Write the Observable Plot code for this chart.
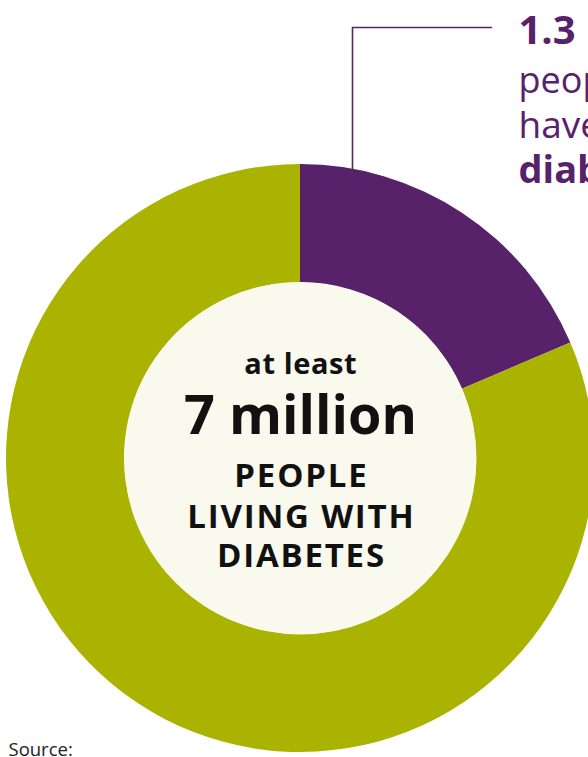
<!DOCTYPE html>
<html><head><meta charset="utf-8">
<script src="https://cdn.jsdelivr.net/npm/d3@7"></script>
<script src="https://cdn.jsdelivr.net/npm/@observablehq/plot@0.6"></script>
<style>
html,body{margin:0;padding:0;background:#fff;overflow:hidden}
svg{overflow:hidden;display:block}
</style>
</head><body><div id="chart"></div>
<script>
// ---- data ----
const categories = ["Undiagnosed", "Diagnosed"];
const values = [1.3, 5.7]; // million people
const colors = ["#58226b", "#aab400"];
const centerLines = ["at least", "7 million", "PEOPLE", "LIVING WITH", "DIABETES"];
const calloutLines = ["1.3 million", "people", "have", "diabetes"];
const sourceLabel = "Source:";

// ---- layout ----
const W = 588, H = 757;
const cx = 300, cy = 458, rOuter = 294, rInner = 176;
const purple = colors[0];
const font = "'Open Sans', 'Noto Sans', sans-serif";

const data = categories.map((c, i) => ({category: c, value: values[i]}));
const arcs = d3.pie().sort(null).value(d => d.value)(data);
const arcGen = d3.arc().innerRadius(rInner).outerRadius(rOuter);

const center = [
  {text: centerLines[0], y: 373, size: 29, ls: 0.6},
  {text: centerLines[1], y: 433, size: 54, ls: 0},
  {text: centerLines[2], y: 486, size: 33, ls: 1.8},
  {text: centerLines[3], y: 527, size: 33, ls: 1.8},
  {text: centerLines[4], y: 566, size: 33, ls: 1.8}
];
const callBold = [
  {text: calloutLines[0], y: 43, size: 40},
  {text: calloutLines[3], y: 182, size: 38}
];
const callReg = [
  {text: calloutLines[1], y: 92, size: 36},
  {text: calloutLines[2], y: 137, size: 37}
];

const chart = Plot.plot({
  width: W, height: H, margin: 0,
  x: {type: "identity", axis: null}, y: {type: "identity", axis: null},
  color: {domain: categories, range: colors},
  style: {background: "#fff", fontFamily: font, overflow: "hidden"},
  marks: [
    Plot.line([{x: 491, y: 27}, {x: 352, y: 27}, {x: 352, y: 170}],
      {x: "x", y: "y", stroke: purple, strokeWidth: 1.6}),
    (index, scales) => {
      const g = d3.create("svg:g").attr("transform", `translate(${cx},${cy})`);
      g.selectAll("path").data(arcs).join("path")
        .attr("d", arcGen)
        .attr("fill", d => scales.color(d.data.category));
      return g.node();
    },
    Plot.dot([{x: cx, y: cy}], {x: "x", y: "y", r: rInner, fill: "#f9f9ee", stroke: "none"}),
    Plot.text(center, {x: () => cx, y: "y", text: "text", fontSize: "size", fontWeight: "bold",
      fill: "#111", textAnchor: "middle", lineAnchor: "bottom", fontFamily: font}),
    Plot.text(callBold, {x: () => 518, y: "y", text: "text", fontSize: "size", fontWeight: "bold",
      fill: purple, textAnchor: "start", lineAnchor: "bottom", fontFamily: font}),
    Plot.text(callReg, {x: () => 518, y: "y", text: "text", fontSize: "size", fontWeight: "normal",
      fill: purple, textAnchor: "start", lineAnchor: "bottom", fontFamily: font}),
    Plot.text([sourceLabel], {x: () => 8, y: () => 755, text: d => d, fontSize: 18.5,
      fill: "#222", textAnchor: "start", lineAnchor: "bottom", fontFamily: font})
  ]
});
// letter spacing for the centre lines
d3.select(chart).selectAll("text").each(function() {
  const t = this.textContent;
  const c = center.find(d => d.text === t);
  if (c && c.ls) {
    d3.select(this).style("letter-spacing", c.ls + "px")
      .attr("dx", c.ls / 2);
  }
});
document.getElementById("chart").appendChild(chart);
</script>
</body></html>
